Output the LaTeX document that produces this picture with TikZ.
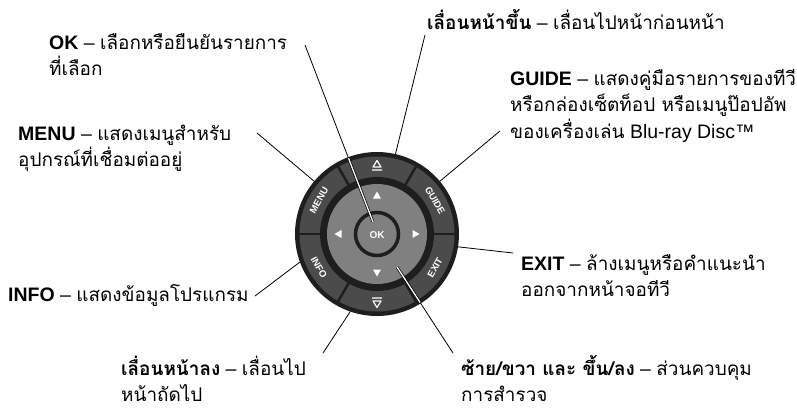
\documentclass[tikz,border=0pt]{standalone}
\usepackage{fontspec}
\setmainfont{Liberation Sans}
\newfontfamily\thaifont[Script=Thai,Scale=0.97]{Loma}
\usetikzlibrary{calc}
\definecolor{ringblack}{HTML}{1E1E1E}
\definecolor{keygray}{HTML}{4B4B4B}
\definecolor{padgray}{HTML}{808080}

\tikzset{
  lbl/.style={anchor=base west,inner sep=0pt,align=left,
    font=\fontsize{19.5}{26.5}\selectfont},
  lead/.style={line width=0.8pt},
  inlead/.style={line width=0.7pt,double=white,double distance=1.3pt},
  keytxt/.style={white,inner sep=0pt,font=\fontsize{9.5}{10}\selectfont\bfseries},
}

\begin{document}
\begin{tikzpicture}[x=1pt,y=-1pt]
    \useasboundingbox (0,0) rectangle (797,410);
    % remote control pad
    \begin{scope}[shift={(377,234)},y=1pt]
      \fill[ringblack] (0,0) circle (82);
      \fill[keygray] (0,0) circle (77.5);
      \fill[ringblack] (0,0) circle (57);
      \foreach \a in {0,60,...,300}
        \draw[ringblack,line width=2.5pt] (\a:56) -- (\a:78);
      \fill[padgray] (0,0) circle (50);
      \draw[ringblack,line width=3.5pt,fill=padgray] (0,0) circle (21.5);
      \foreach \a in {0,90,180,270}
        \fill[white,rotate=\a] (42.5,0) -- (35.5,4) -- (35.5,-4) -- cycle;
      \node[keytxt,font=\fontsize{10}{10}\selectfont\bfseries] (okKey) at (0,-1) {OK};
      \node[keytxt,rotate=60] (menuKey) at (150:67) {MENU};
      \node[keytxt,rotate=-60] (guideKey) at (30:67) {GUIDE};
      \node[keytxt,rotate=60] (exitKey) at (-30:67) {EXIT};
      \node[keytxt,rotate=-60] (infoKey) at (210:67) {INFO};
      \draw[white,line width=1.2pt,line join=round] (-4,67) -- (4,67) -- (0,73.5) -- cycle
        (-5,64) -- (5,64);
      \draw[white,line width=1.2pt,line join=round] (-4,-67) -- (4,-67) -- (0,-73.5) -- cycle
        (-5,-64) -- (5,-64);
      \coordinate (okTip) at (-4,12);
      \coordinate (navTip) at (20,-33);
      \coordinate (upPt) at (77:82);
      \coordinate (guidePt) at (40:82);
      \coordinate (menuPt) at (140:82);
      \coordinate (infoPt) at (200:82);
      \coordinate (exitPt) at (-9:82);
      \coordinate (downPt) at (-109:82);
    \end{scope}

    % labels (base = last line)
    \node[lbl] (okLbl) at (49,75.5)
      {\textbf{OK} – {\thaifont เลือกหรือยืนยันรายการ}\\{\thaifont ที่เลือก}};
    \node[lbl] (upLbl) at (427,29)
      {{\thaifont\bfseries เลื่อนหน้าขึ้น} – {\thaifont เลื่อนไปหน้าก่อนหน้า}};
    \node[lbl] (guideLbl) at (510,138)
      {\textbf{GUIDE} – {\thaifont แสดงคู่มือรายการของทีวี}\\
       {\thaifont หรือกล่องเซ็ตท็อป หรือเมนูป๊อปอัพ}\\
       {\thaifont ของเครื่องเล่น} Blu-ray Disc™};
    \node[lbl] (menuLbl) at (18,166.5)
      {\textbf{MENU} – {\thaifont แสดงเมนูสำหรับ}\\{\thaifont อุปกรณ์ที่เชื่อมต่ออยู่}};
    \node[lbl] (infoLbl) at (8,301)
      {\textbf{INFO} – {\thaifont แสดงข้อมูลโปรแกรม}};
    \node[lbl] (exitLbl) at (521,296.5)
      {\textbf{EXIT} – {\thaifont ล้างเมนูหรือคำแนะนำ}\\{\thaifont ออกจากหน้าจอทีวี}};
    \node[lbl] (downLbl) at (121,401.5)
      {{\thaifont\bfseries เลื่อนหน้าลง} – {\thaifont เลื่อนไป}\\{\thaifont หน้าถัดไป}};
    \node[lbl] (navLbl) at (461,401.5)
      {{\thaifont\bfseries ซ้าย/ขวา และ ขึ้น/ลง} – {\thaifont ส่วนควบคุม}\\{\thaifont การสำรวจ}};

    % leader lines
    \coordinate (okEnd) at (305,45);
    \coordinate (upEnd) at (425,35);
    \coordinate (guideEnd) at (500,131);
    \coordinate (menuEnd) at (257,133);
    \coordinate (infoEnd) at (255,296);
    \coordinate (exitEnd) at (513,253);
    \coordinate (downEnd) at (323,353);
    \coordinate (navEnd) at (453,353);
    \draw[lead] (okEnd) -- (okTip);
    \draw[lead] (navEnd) -- (navTip);
    \draw[lead] (upEnd) -- (upPt);
    \draw[lead] (guideEnd) -- (guidePt);
    \draw[lead] (menuEnd) -- (menuPt);
    \draw[lead] (infoEnd) -- (infoPt);
    \draw[lead] (exitEnd) -- (exitPt);
    \draw[lead] (downEnd) -- (downPt);
    \begin{scope}
      \clip (377,234) circle (81);
      \draw[inlead] (okEnd) -- (okTip);
      \draw[inlead] (navEnd) -- (navTip);
    \end{scope}
\end{tikzpicture}
\end{document}
